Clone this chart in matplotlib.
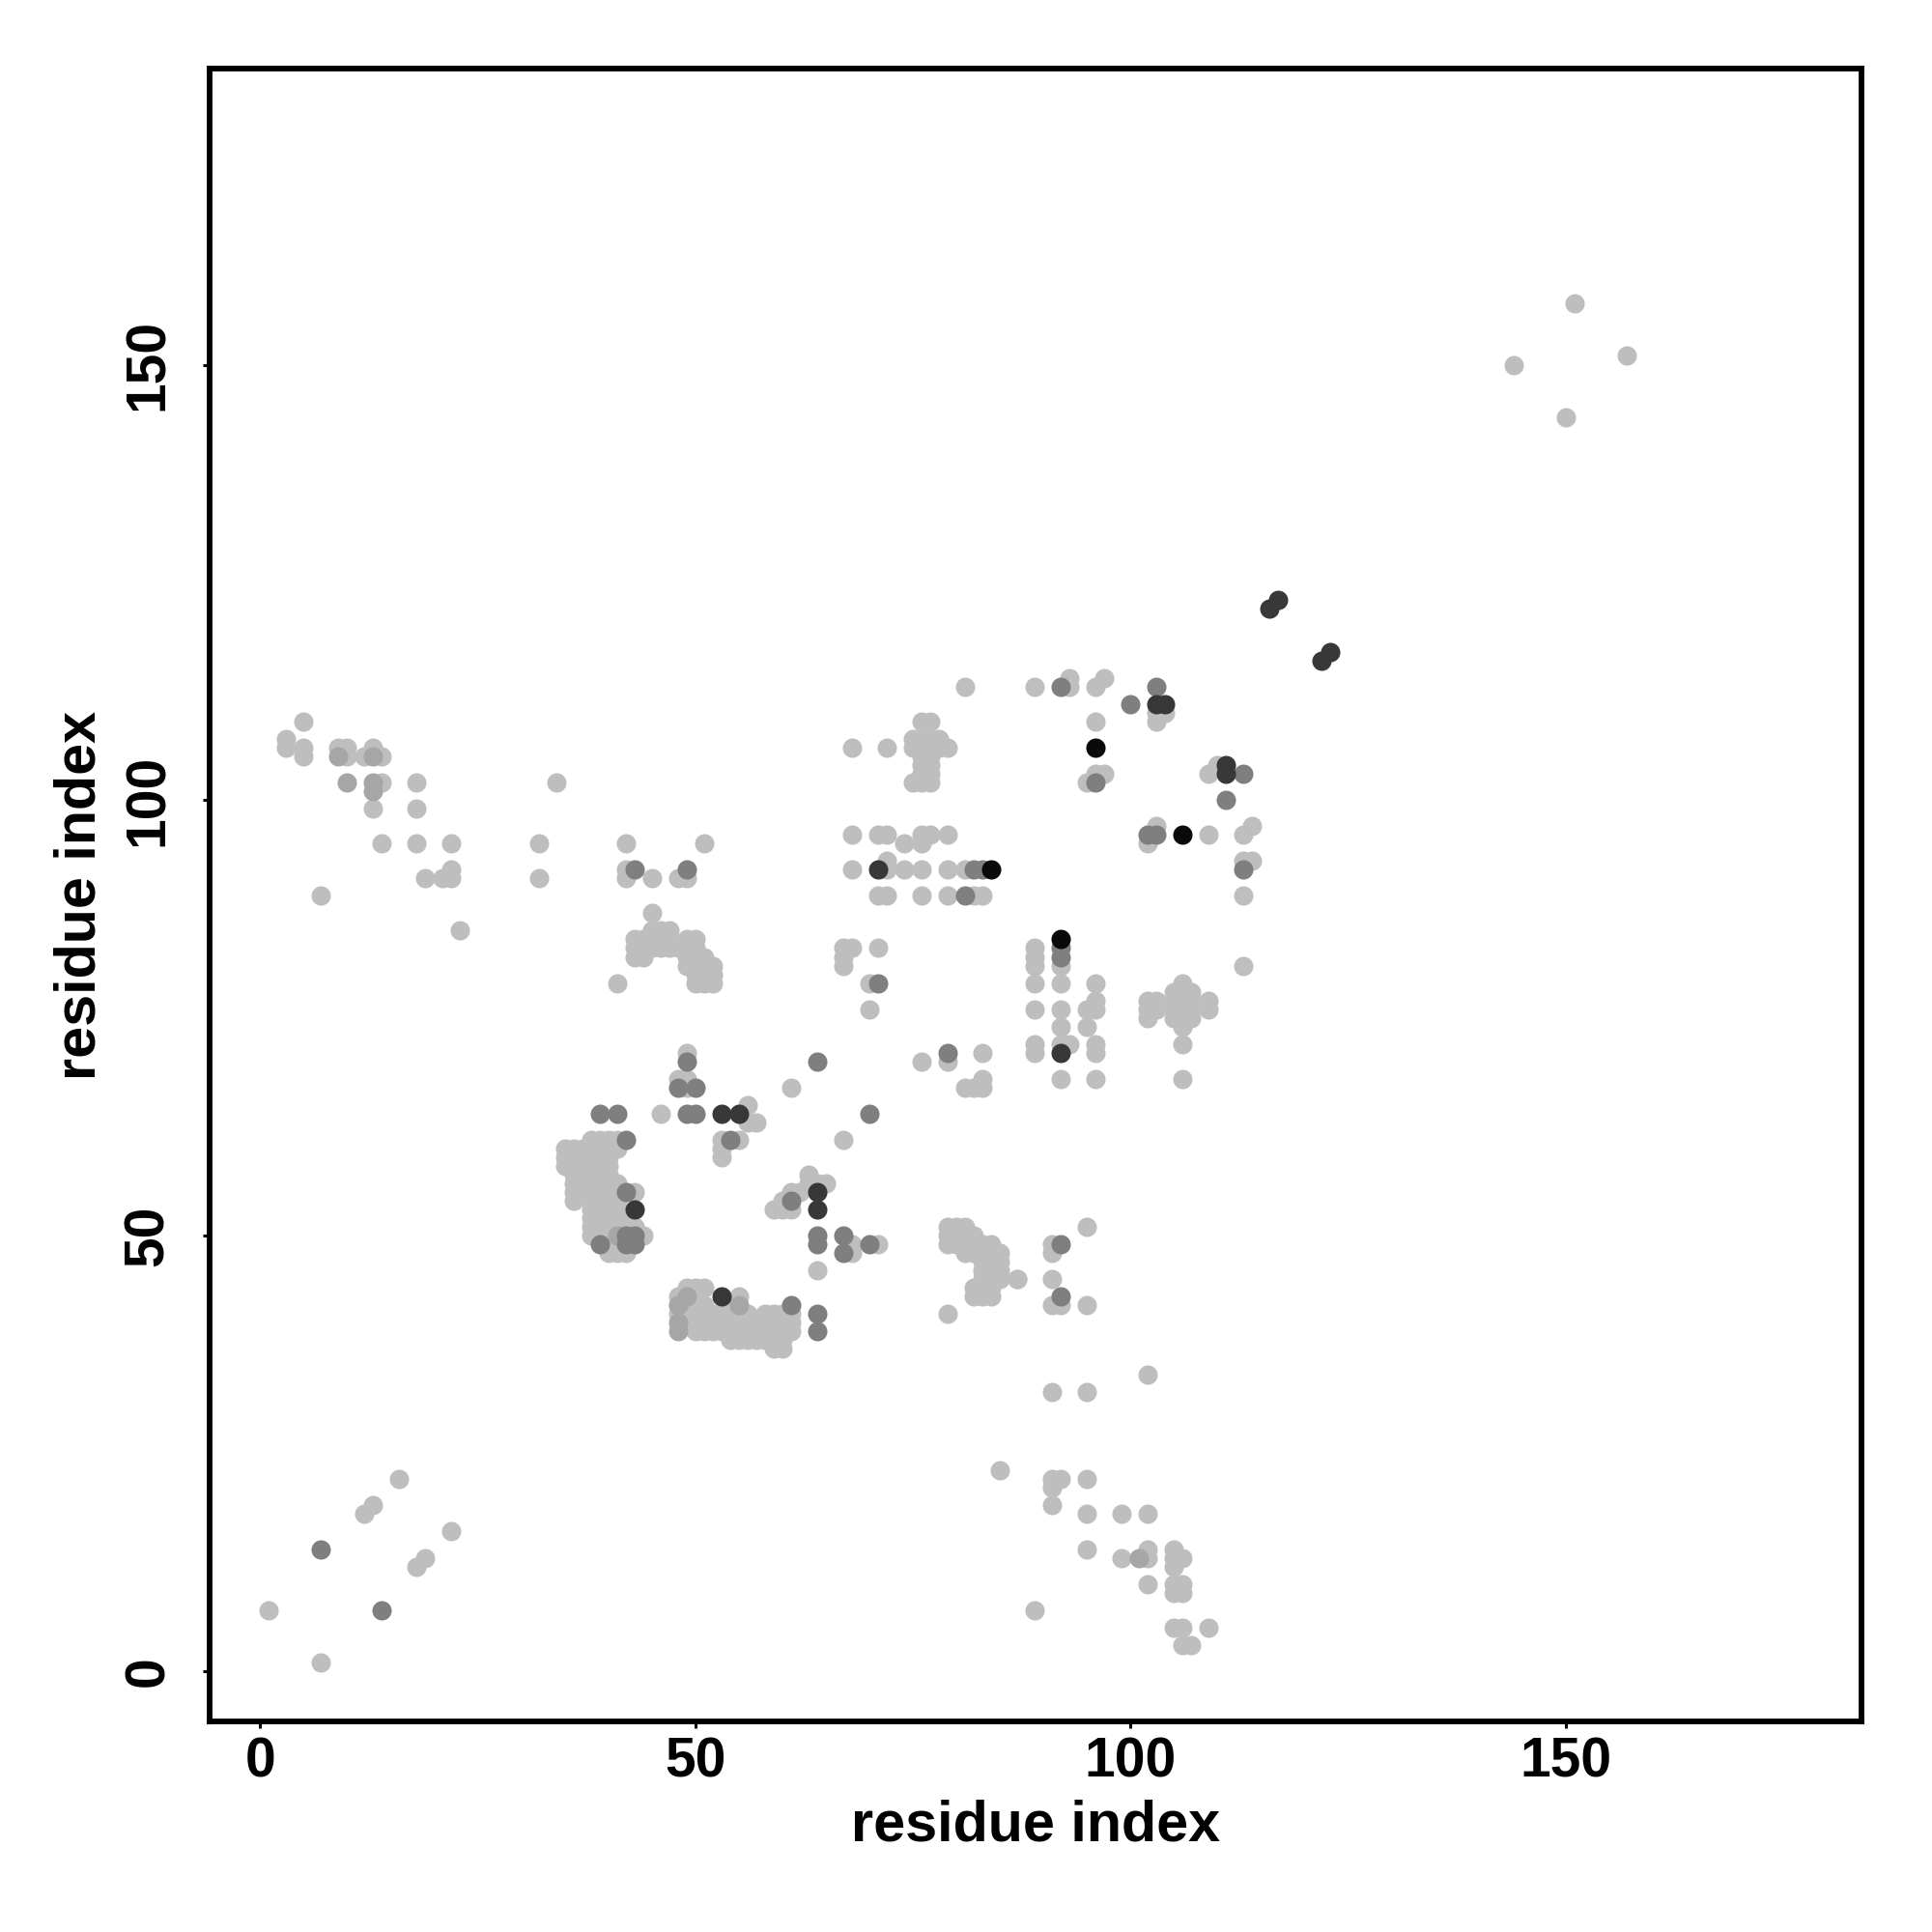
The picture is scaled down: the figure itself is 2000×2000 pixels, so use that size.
import numpy as np
import matplotlib
matplotlib.use("Agg")
import matplotlib.pyplot as plt

# contact pairs (residue i, residue j) grouped by grey tone
light = [
    (1, 7), (7, 1), (12, 18), (13, 19), (16, 22), (18, 12), (19, 13), (22, 16),
    (85, 23), (89, 7), (91, 22), (92, 22), (91, 21), (95, 22), (91, 19), (95, 18), (99, 18), (102, 18),
    (95, 14), (99, 13), (102, 14), (102, 13), (105, 14), (105, 13), (106, 13), (105, 12), (102, 10),
    (105, 10), (106, 10), (105, 9), (106, 9), (105, 5), (106, 5), (109, 5), (106, 3), (107, 3),
    (89, 72), (89, 71), (92, 72), (93, 72), (96, 72), (96, 71), (106, 72), (92, 68), (96, 68), (106, 68),
    (95, 51), (91, 49), (91, 48), (87, 45), (91, 45), (91, 42), (92, 42), (95, 42), (102, 34), (91, 32), (95, 32),
    (89, 113), (93, 113), (93, 114), (96, 113), (97, 114), (103, 110), (104, 110), (103, 109), (96, 109),
    (95, 102), (96, 103), (97, 103), (109, 103), (110, 104), (103, 97), (102, 95), (109, 96), (113, 96),
    (114, 97), (113, 93), (114, 93), (113, 89), (113, 81), (89, 83), (89, 82), (89, 81), (92, 81),
    (89, 79), (92, 79), (96, 79), (89, 76), (92, 76), (95, 76), (96, 76), (96, 77), (92, 74), (95, 74),
    (102, 77), (103, 77), (102, 76), (103, 76), (102, 75), (106, 79), (105, 78), (106, 78), (107, 78),
    (105, 77), (106, 77), (107, 77), (105, 76), (106, 76), (107, 76), (105, 75), (106, 75), (107, 75),
    (106, 74), (109, 77), (109, 76),
    (151, 157), (144, 150), (157, 151), (150, 144),
    (5, 109), (3, 107), (3, 106), (5, 106), (5, 105), (9, 106), (10, 106), (10, 105), (12, 105), (13, 106),
    (14, 105), (14, 102), (13, 99), (18, 102), (18, 99), (14, 95), (18, 95), (22, 95), (32, 95), (42, 95),
    (19, 91), (21, 91), (22, 92), (22, 91), (32, 91), (42, 92), (42, 91), (7, 89), (23, 85), (34, 102), (41, 79),
    (81, 113), (76, 109), (77, 109), (68, 106), (72, 106),
    (75, 107), (76, 107), (77, 107), (78, 107), (75, 106), (76, 106), (77, 106), (78, 106), (79, 106),
    (76, 105), (77, 105), (76, 104), (77, 104), (76, 103), (77, 103), (75, 102), (76, 102), (77, 102),
    (68, 96), (71, 96), (72, 96), (76, 96), (77, 96), (79, 96), (74, 95), (76, 95),
    (68, 92), (72, 92), (72, 93), (74, 92), (76, 92), (79, 92), (81, 92),
    (71, 89), (72, 89), (76, 89), (79, 89), (82, 89), (83, 89),
    (45, 91), (48, 91), (49, 91), (51, 95), (45, 87),
    (43, 84), (44, 84), (45, 84), (46, 84), (47, 84), (49, 84), (50, 84), (45, 85), (46, 85), (47, 85),
    (43, 83), (44, 83), (45, 83), (46, 83), (47, 83), (48, 83), (49, 83), (50, 83),
    (43, 82), (44, 82), (49, 82), (50, 82), (51, 82), (49, 81), (50, 81), (51, 81), (52, 81),
    (50, 80), (51, 80), (52, 80), (50, 79), (51, 79), (52, 79),
    (67, 83), (68, 83), (67, 82), (67, 81), (71, 83), (70, 79), (70, 76),
    (49, 71), (48, 68), (49, 68), (49, 67), (46, 64), (56, 65), (56, 63), (57, 63), (53, 61), (55, 61),
    (53, 60), (53, 59), (61, 67), (67, 61), (76, 70), (79, 70), (83, 71), (81, 67), (82, 67), (83, 68), (83, 67),
    (63, 57), (64, 56), (65, 56), (63, 56), (61, 55), (62, 55), (60, 54), (59, 53), (60, 53), (61, 53),
    (68, 49), (68, 48), (71, 49), (64, 46),
    (79, 51), (80, 51), (81, 51), (79, 50), (80, 50), (81, 50), (82, 50),
    (79, 49), (80, 49), (81, 49), (82, 49), (83, 49), (84, 49), (81, 48), (82, 48), (83, 48), (84, 48), (85, 48),
    (83, 47), (84, 47), (85, 47), (83, 46), (84, 46), (85, 46), (83, 45), (84, 45), (85, 45), (87, 45),
    (82, 44), (83, 44), (84, 44), (82, 43), (83, 43), (84, 43), (79, 41),
    (49, 44), (50, 44), (51, 44), (48, 43), (49, 43), (50, 43), (55, 43),
    (48, 42), (49, 42), (50, 42), (51, 42), (54, 42),
    (48, 41), (49, 41), (50, 41), (51, 41), (52, 41), (53, 41), (54, 41), (55, 41), (56, 41), (58, 41), (59, 41), (60, 41), (61, 41),
    (49, 40), (50, 40), (51, 40), (52, 40), (53, 40), (54, 40), (55, 40), (56, 40), (57, 40), (58, 40), (59, 40), (60, 40), (61, 40),
    (50, 39), (51, 39), (52, 39), (53, 39), (54, 39), (55, 39), (56, 39), (57, 39), (58, 39), (59, 39), (60, 39), (61, 39),
    (54, 38), (55, 38), (56, 38), (57, 38), (58, 38), (59, 38), (60, 38), (59, 37), (60, 37),
    (38, 61), (39, 61), (40, 61), (41, 61),
    (35, 60), (36, 60), (37, 60), (38, 60), (39, 60), (40, 60), (41, 60),
    (35, 59), (36, 59), (37, 59), (38, 59), (39, 59), (40, 59),
    (35, 58), (36, 58), (37, 58), (38, 58), (39, 58), (40, 58),
    (36, 57), (37, 57), (38, 57), (39, 57), (40, 57),
    (36, 56), (37, 56), (38, 56), (39, 56), (40, 56), (41, 56),
    (36, 55), (37, 55), (38, 55), (39, 55), (40, 55), (41, 55), (43, 55),
    (36, 54), (38, 54), (39, 54), (40, 54), (41, 54),
    (38, 53), (39, 53), (40, 53), (41, 53),
    (38, 52), (39, 52), (40, 52), (41, 52), (42, 52),
    (38, 51), (39, 51), (40, 51), (41, 51), (42, 51), (43, 51),
    (38, 50), (39, 50), (40, 50), (44, 50), (40, 49), (41, 49), (40, 48), (41, 48), (42, 48),
]
light2 = [
    (101, 13), (9, 105), (10, 102), (13, 102), (13, 101), (13, 105),
    (48, 40), (48, 39), (41, 50), (55, 42), (49, 43), (48, 42),
]
mid = [
    (7, 14), (14, 7),
    (92, 49), (92, 43),
    (92, 113), (103, 113), (100, 111), (96, 102), (113, 103), (111, 100), (102, 96), (103, 96),
    (113, 92), (92, 83), (92, 82),
    (43, 92), (49, 92), (82, 92), (83, 92), (81, 89), (71, 79),
    (49, 70), (48, 67), (50, 67), (49, 64), (50, 64), (54, 61), (64, 70), (70, 64), (79, 71),
    (61, 54), (64, 50), (64, 49), (67, 50), (67, 48), (70, 49), (64, 41), (64, 39), (61, 42),
    (39, 64), (41, 64), (42, 61), (42, 55), (39, 49), (42, 50), (43, 50), (42, 49), (43, 49),
]
dark = [
    (92, 71), (103, 111), (104, 111), (111, 104), (111, 103),
    (116, 122), (117, 123), (122, 116), (123, 117),
    (71, 92), (53, 64), (55, 64), (64, 55), (64, 53), (53, 43), (43, 53),
]
black = [(96, 106), (106, 96), (92, 84), (84, 92)]

tones = [light, light2, mid, dark, black]
tone_colors = ["#bebebe", "#a6a6a6", "#7f7f7f", "#383838", "#0a0a0a"]
ticks = [0, 50, 100, 150]

plt.rcParams['font.family'] = ['Liberation Sans', 'DejaVu Sans']
plt.rcParams['font.weight'] = 'bold'

fig = plt.figure(figsize=(10, 10), dpi=200)
ax = fig.add_axes([0.1085, 0.109, 0.855, 0.8555])

for pts, col in zip(tones, tone_colors):
    arr = np.array(pts)
    ax.scatter(arr[:, 0], arr[:, 1], s=52, c=col, linewidths=0, zorder=2)

ax.set_xlim(-5.8, 184)
ax.set_ylim(-5.8, 184)
ax.set_xticks(ticks)
ax.set_yticks(ticks)
ax.tick_params(direction='out', length=2.4, width=1.1, labelsize=20.5)
ax.tick_params(axis='x', pad=3)
ax.tick_params(axis='y', pad=10.5)
for lab in ax.get_yticklabels():
    lab.set_rotation(90)
    lab.set_va('center')
for lab in ax.get_xticklabels() + ax.get_yticklabels():
    lab.set_fontweight('bold')
for sp in ax.spines.values():
    sp.set_linewidth(2.1)

ax.set_xlabel("residue index", fontsize=21.4, fontweight='bold', labelpad=4)
ax.set_ylabel("residue index", fontsize=21.4, fontweight='bold', labelpad=6)

fig.savefig("out.png", dpi=200)
